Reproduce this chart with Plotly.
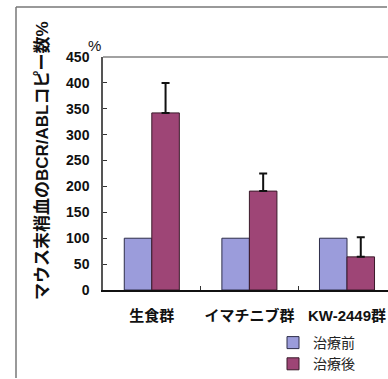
import plotly.graph_objects as go

# Groups and measured BCR/ABL copy number (% of baseline)
groups = ["生食群", "イマチニブ群", "KW-2449群"]
before_vals = [100, 100, 100]
after_vals = [342, 191, 64]
after_err = [58, 34, 38]
y_ticks = [0, 50, 100, 150, 200, 250, 300, 350, 400, 450]

W, H = 388, 379
L, R, T, B = 103, 0, 57, 89
pw, ph = W - L - R, H - T - B

def px(x):
    return (x - L) / pw

def py(y):
    return (H - B - y) / ph

FONT = "Liberation Sans, Noto Sans CJK JP, Arial, sans-serif"

fig = go.Figure()
fig.add_trace(go.Bar(
    x=groups, y=before_vals, name="治療前",
    marker=dict(color="#9b9cdb", line=dict(color="#2e2e4a", width=1)),
))
fig.add_trace(go.Bar(
    x=groups, y=after_vals, name="治療後",
    marker=dict(color="#9e4576", line=dict(color="#3a1a2a", width=1)),
    error_y=dict(type="data", array=after_err, arrayminus=[0] * len(after_err),
                 symmetric=False, color="#111111", thickness=2, width=4),
))

fig.update_layout(
    width=W, height=H,
    margin=dict(l=L, r=R, t=T, b=B, pad=0, autoexpand=False),
    paper_bgcolor="white", plot_bgcolor="white",
    barmode="group", bargap=0.436, bargroupgap=0,
    font=dict(family=FONT, color="#111111"),
    showlegend=True,
    legend=dict(x=px(273), y=py(327), xanchor="left", yanchor="top",
                font=dict(size=14, family=FONT, color="#222222"),
                bgcolor="rgba(0,0,0,0)", tracegroupgap=0, itemwidth=30),
    xaxis=dict(
        range=[-0.5, 2.42], showline=True, linecolor="#111111", linewidth=2,
        ticks="inside", ticklen=4, tickcolor="#333333", tickson="boundaries",
        ticklabelstandoff=11, tickangle=0, automargin=False,
        tickfont=dict(size=15, family=FONT, color="#111111", weight="bold"),
        showgrid=False, zeroline=False,
    ),
    yaxis=dict(
        range=[0, 450], tickvals=y_ticks, showline=True, linecolor="#555555",
        linewidth=1.5, ticks="inside", ticklen=4, tickcolor="#333333",
        ticklabelstandoff=9, automargin=False,
        tickfont=dict(size=14, family=FONT, color="#111111", weight="bold"),
        showgrid=False, zeroline=False,
    ),
)

# top border of the plot area
fig.add_shape(type="line", xref="paper", yref="paper", x0=0, x1=1, y0=1, y1=1,
              line=dict(color="#444444", width=1.2))
# outer frame around the figure (left and top edges)
fig.add_shape(type="line", xref="paper", yref="paper", layer="above",
              x0=px(16), x1=px(16), y0=py(378), y1=py(7),
              line=dict(color="#777777", width=1.5))
fig.add_shape(type="line", xref="paper", yref="paper", layer="above",
              x0=px(16), x1=px(387), y0=py(7), y1=py(7),
              line=dict(color="#777777", width=1.5))

fig.add_annotation(text="マウス末梢血のBCR/ABLコピー数%", textangle=-90,
                   xref="paper", yref="paper", x=px(42), y=py(161),
                   xanchor="center", yanchor="middle",
                   showarrow=False, font=dict(size=17, family=FONT, color="#111111",
                                              weight="bold"))
fig.add_annotation(text="%", xref="paper", yref="paper", x=px(94), y=py(45),
                   xanchor="center", yanchor="middle",
                   showarrow=False, font=dict(size=15, family=FONT, color="#111111"))

fig.write_html("out.html")
